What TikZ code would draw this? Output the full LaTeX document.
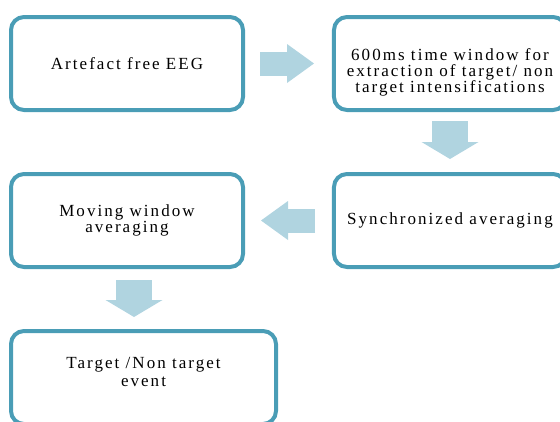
\documentclass[tikz,border=0pt]{standalone}
\usepackage{fontspec}
\setmainfont{Liberation Serif}[LetterSpace=12]
\usetikzlibrary{arrows.meta}
\usetikzlibrary{matrix}
\definecolor{boxline}{RGB}{74,157,182}
\definecolor{arrowfill}{RGB}{176,212,224}
\def\bw{232pt}
\def\bh{93pt}
\def\boxfont{\fontsize{17}{16}\selectfont}
\tikzset{
    stagebox/.style = {
        draw=boxline, rectangle, rounded corners=13pt, line width=4pt, minimum width=\bw, minimum height=\bh, align=center, anchor=west, font=\boxfont
    },
    sidearrow/.style = {
        draw=arrowfill, line width=24pt, -{Triangle[width=39pt, length=27pt, line width=0pt]}
    },
    downarrow/.style = {
        draw=arrowfill, line width=36pt, -{Triangle[width=57pt, length=17pt, line width=0pt]}
    },
}
\begin{document}
\begin{tikzpicture}[x=1pt, y=-1pt]
        \useasboundingbox (0,0) rectangle (560,421);
        \clip (0,0) rectangle (560,421);
        % Place the blocks
        \matrix (m) [ampersand replacement=\&, column sep=54pt, row sep=60pt, inner sep=0pt, outer sep=0pt, anchor=north west] at (9,15) {
            \node[stagebox] (eeg) {Artefact free EEG}; \& \node[stagebox] (window) {\strut\\600ms time window for\\extraction of target/ non\\target intensifications}; \\
            \node[stagebox] (moving) {Moving window\\averaging}; \& \node[stagebox] (sync) {Synchronized averaging}; \\
            \node[stagebox, minimum width=265pt, font=\fontsize{17}{18}\selectfont] (target) {Target /Non target\\event\\[-6pt]\mbox{}}; \& \\
        };
        % Draw connections
        \draw[sidearrow] ([xshift=17pt] eeg.east) -- ([xshift=-20pt] window.west);
        \draw[downarrow] ([yshift=-11pt] window.south) -- ([yshift=15pt] sync.north);
        \draw[sidearrow] ([xshift=-19pt] sync.west) -- ([xshift=18pt] moving.east);
        \coordinate (d2) at ([xshift=7pt, yshift=-13pt] moving.south);
        \coordinate (t2) at ([yshift=14pt] target.north);
        \draw[downarrow] (d2) -- (d2 |- t2);
\end{tikzpicture}
\end{document}
